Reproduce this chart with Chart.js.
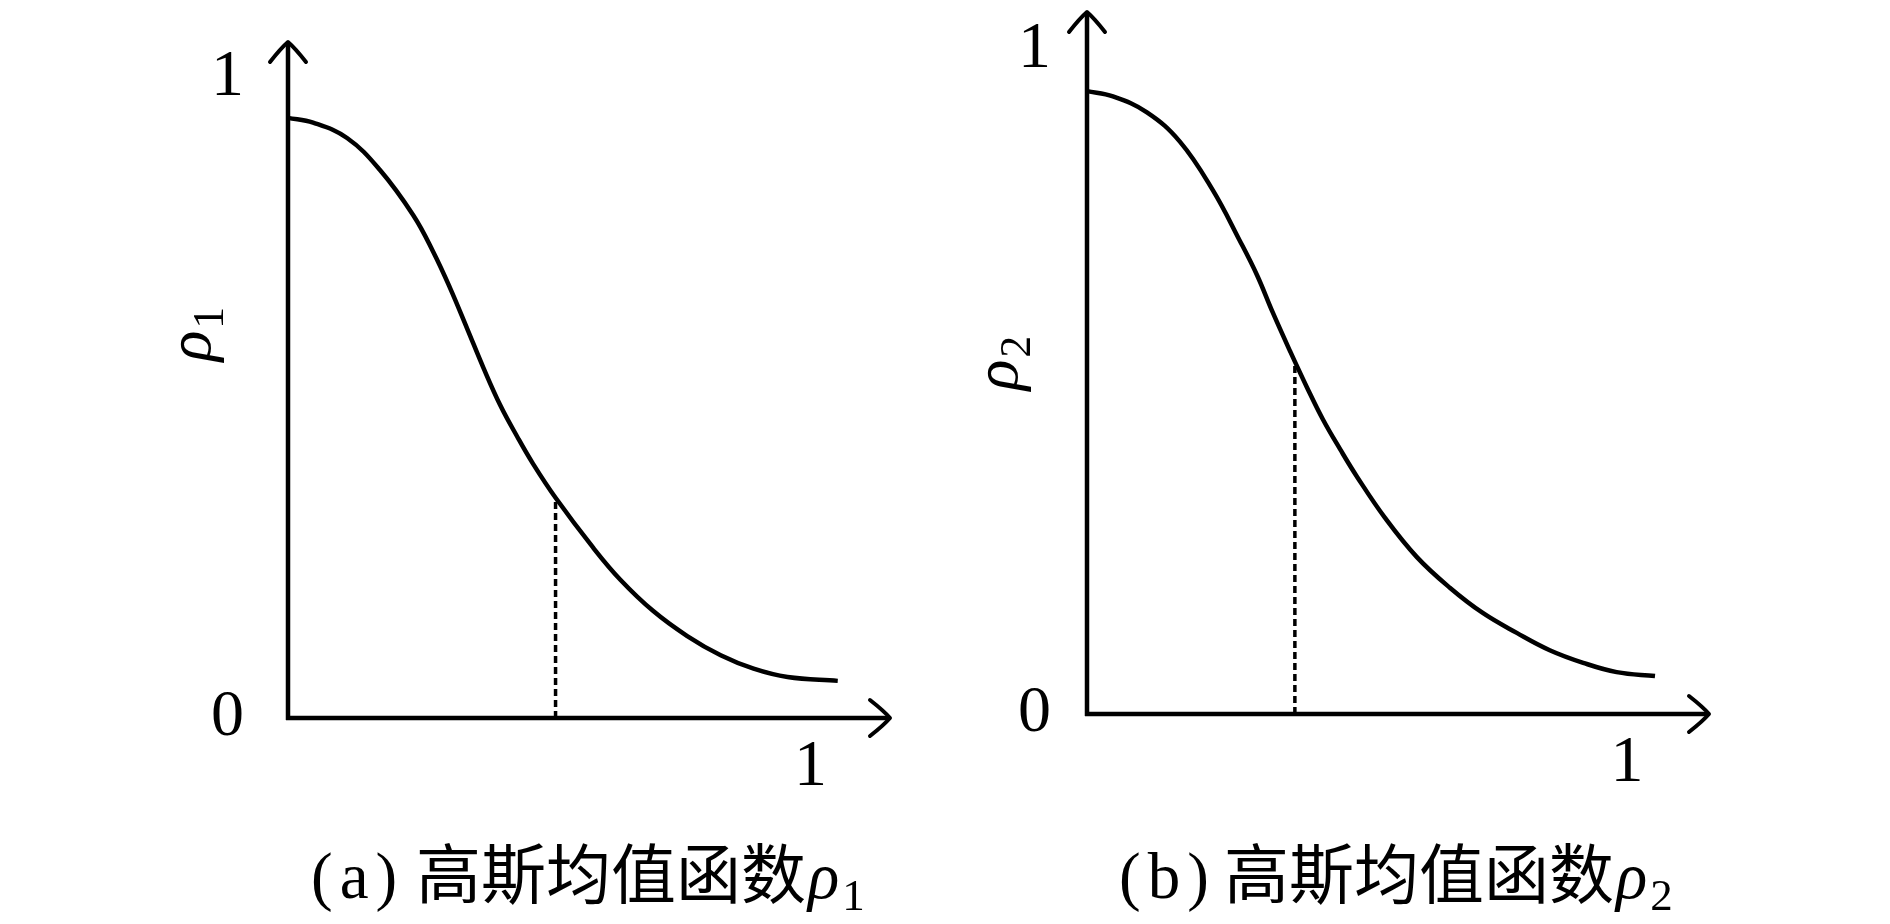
<!DOCTYPE html>
<html>
<head>
<meta charset="utf-8">
<script src="https://cdn.jsdelivr.net/npm/chart.js@4.4.1/dist/chart.umd.min.js"></script>
<style>
html, body { margin: 0; padding: 0; background: #fff; }
#wrap { position: relative; width: 1890px; height: 924px; overflow: hidden; }
canvas { position: absolute; top: 0; }
#c1 { left: 0; }
#c2 { left: 945px; }
</style>
</head>
<body>
<div id="wrap">
<canvas id="c1" width="945" height="924"></canvas>
<canvas id="c2" width="945" height="924"></canvas>
</div>
<script>
// panel (a): rho_1
var xA = [0, 0.048, 0.113, 0.176, 0.240, 0.278, 0.310, 0.343, 0.374, 0.406, 0.439, 0.469, 0.512, 0.584, 0.636, 0.699, 0.764, 0.828, 0.891, 0.956, 1.052];
var yA = [0.9375, 0.930, 0.906, 0.856, 0.785, 0.728, 0.672, 0.608, 0.547, 0.489, 0.439, 0.397, 0.344, 0.266, 0.216, 0.167, 0.128, 0.098, 0.077, 0.064, 0.058];
var dashA = [0.512, 0.344];

// panel (b): rho_2
var xB = [0, 0.048, 0.111, 0.172, 0.233, 0.283, 0.315, 0.344, 0.376, 0.407, 0.437, 0.469, 0.500, 0.552, 0.611, 0.672, 0.733, 0.796, 0.857, 0.919, 0.981, 1.052];
var yB = [0.937, 0.929, 0.905, 0.861, 0.788, 0.712, 0.660, 0.604, 0.546, 0.492, 0.443, 0.398, 0.357, 0.295, 0.236, 0.190, 0.152, 0.122, 0.096, 0.077, 0.063, 0.057];
var dashB = [0.385, 0.528];

var yTicks = [0, 1];
var xTicks = [1];
var xMax = 1.152, yMax = 1.056;
var captionText = '高斯均值函数';

var serif = "'Liberation Serif', 'DejaVu Serif', serif";

// axis lines with arrow heads
var axisPlugin = {
	id: 'axisArrows',
	beforeDatasetsDraw: function(chart) {
		var ctx = chart.ctx, xs = chart.scales.x, ys = chart.scales.y;
		var x0 = xs.getPixelForValue(0), y0 = ys.getPixelForValue(0);
		var xe = xs.getPixelForValue(xMax), ye = ys.getPixelForValue(yMax);
		ctx.save();
		ctx.strokeStyle = '#000';
		ctx.lineWidth = 4.5;
		ctx.beginPath();
		ctx.moveTo(x0, y0 + 2); ctx.lineTo(x0, ye + 1);
		ctx.moveTo(x0 - 2, y0); ctx.lineTo(xe - 1, y0);
		ctx.stroke();
		ctx.lineWidth = 4;
		ctx.lineCap = 'round';
		ctx.lineJoin = 'round';
		ctx.beginPath();
		ctx.moveTo(x0 - 18, ye + 20); ctx.quadraticCurveTo(x0 - 7, ye + 6, x0, ye); ctx.quadraticCurveTo(x0 + 7, ye + 6, x0 + 18, ye + 20);
		ctx.moveTo(xe - 20, y0 - 18); ctx.quadraticCurveTo(xe - 6, y0 - 7, xe, y0); ctx.quadraticCurveTo(xe - 6, y0 + 7, xe - 20, y0 + 18);
		ctx.stroke();
		ctx.restore();
	}
};

// rotated rho label and caption
var textPlugin = {
	id: 'panelText',
	afterDraw: function(chart, args, o) {
		var ctx = chart.ctx;
		ctx.save();
		ctx.fillStyle = '#000';
		ctx.textBaseline = 'alphabetic';
		ctx.textAlign = 'left';
		ctx.translate(o.rhoX, o.rhoY);
		ctx.rotate(-Math.PI / 2);
		ctx.font = 'italic 64px ' + serif;
		var w1 = ctx.measureText('ρ').width;
		ctx.font = '44px ' + serif;
		var w2 = ctx.measureText(o.sub).width;
		var sx = -(w1 + w2 + 2) / 2;
		ctx.font = 'italic 64px ' + serif;
		ctx.fillText('ρ', sx, 0);
		ctx.font = '44px ' + serif;
		ctx.fillText(o.sub, sx + w1 + 2, 13);
		ctx.restore();

		ctx.save();
		ctx.fillStyle = '#000';
		ctx.textBaseline = 'alphabetic';
		var x = o.capX, y = o.capY;
		ctx.font = '65px ' + serif;
		for (var i = 0; i < o.cap.length; i++) {
			ctx.fillText(o.cap[i], x, y);
			x += ctx.measureText(o.cap[i]).width + 7;
		}
		x = o.capX + 105;
		ctx.font = "65px 'Noto Sans CJK SC'";
		ctx.fillText(captionText, x, y);
		x += ctx.measureText(captionText).width + 2;
		ctx.font = 'italic 65px ' + serif;
		ctx.fillText('ρ', x, y);
		x += ctx.measureText('ρ').width + 3;
		ctx.font = '45px ' + serif;
		ctx.fillText(o.sub, x, y + 12);
		ctx.restore();
	}
};

function makePanel(id, xs, ys, dash, opt) {
	var curve = [];
	for (var i in xs) {
		curve.push({x: xs[i], y: ys[i]});
	}
	return new Chart(document.getElementById(id), {
		type: 'line',
		data: {
			datasets: [
				{
					data: curve,
					borderColor: '#000',
					borderWidth: 4.5,
					pointRadius: 0,
					tension: 0.4,
					clip: false
				},
				{
					data: [{x: dash[0], y: 0}, {x: dash[0], y: dash[1]}],
					borderColor: '#000',
					borderWidth: 3.5,
					borderDash: [7, 4],
					pointRadius: 0,
					clip: false
				}
			]
		},
		options: {
			responsive: false,
			animation: false,
			devicePixelRatio: 1,
			layout: {padding: opt.pad},
			plugins: {
				legend: {display: false},
				tooltip: {enabled: false},
				panelText: opt
			},
			scales: {
				x: {
					type: 'linear', min: 0, max: xMax,
					grid: {display: false, drawTicks: false},
					border: {display: false},
					afterBuildTicks: function(s) {
						s.ticks = xTicks.map(function(v) { return {value: v}; });
					},
					ticks: {font: {family: serif, size: 66}, color: '#000', padding: opt.xPad, autoSkip: false, maxRotation: 0},
					afterFit: function(s) {
						s.height = 100;
						s.paddingLeft = 0; s.paddingRight = 0;
					}
				},
				y: {
					type: 'linear', min: 0, max: yMax,
					grid: {display: false, drawTicks: false},
					border: {display: false},
					afterBuildTicks: function(s) {
						s.ticks = yTicks.map(function(v) { return {value: v}; });
					},
					ticks: {font: {family: serif, size: 66}, color: '#000', padding: opt.yPad, autoSkip: false},
					afterFit: function(s) {
						s.width = opt.yW;
						s.paddingTop = 0; s.paddingBottom = 0;
					}
				}
			}
		},
		plugins: [axisPlugin, textPlugin]
	});
}

makePanel('c1', xA, yA, dashA, {
	pad: {left: 138, top: 42, right: 55, bottom: 106},
	yW: 150, yPad: 44, xPad: 10,
	sub: '1', rhoX: 210, rhoY: 334,
	cap: '(a)', capX: 311, capY: 898
});

makePanel('c2', xB, yB, dashB, {
	pad: {left: 22, top: 12, right: 181, bottom: 110},
	yW: 120, yPad: 36, xPad: 10,
	sub: '2', rhoX: 72, rhoY: 363,
	cap: '(b)', capX: 174, capY: 898
});
</script>
</body>
</html>
